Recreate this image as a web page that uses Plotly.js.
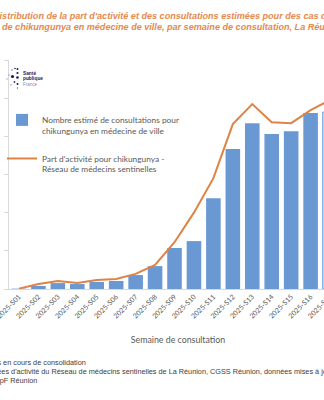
<!DOCTYPE html>
<html><head><meta charset="utf-8">
<script src="https://cdn.plot.ly/plotly-3.0.1.min.js"></script>
<style>html,body{margin:0;padding:0;overflow:hidden;width:324px;height:400px;background:#fff}#c{width:350px;height:400px}</style>
</head><body><div id="c"></div>
<script>
// ---- data ----
const weeks = ["2025-S01","2025-S02","2025-S03","2025-S04","2025-S05","2025-S06","2025-S07","2025-S08","2025-S09","2025-S10","2025-S11","2025-S12","2025-S13","2025-S14","2025-S15","2025-S16","2025-S17"];
const consultations = [20,160,310,260,370,420,730,1200,2150,2510,4760,7330,8690,8120,8270,9220,9270];
const partActivite = [0.02,0.26,0.42,0.31,0.47,0.52,0.79,1.26,2.45,4.0,5.81,8.64,9.69,8.74,8.69,9.37,9.9];
const consolidating = [false,false,false,false,false,false,false,false,false,false,false,false,false,false,false,false,true];

const barName = "Nombre estimé de consultations pour<br>chikungunya en médecine de ville";
const lineName = "Part d'activité pour chikungunya -<br>Réseau de médecins sentinelles";
const titleLine1 = "Distribution de la part d'activité et des consultations estimées pour des cas de suspicion";
const titleLine2 = "de chikungunya en médecine de ville, par semaine de consultation, La Réunion, 2025";
const foot1 = "* Données en cours de consolidation";
const foot2 = "Sources : Données d'activité du Réseau de médecins sentinelles de La Réunion, CGSS Réunion, données mises à jour le 29/04/2025";
const foot3 = "Exploitation : SpF Réunion";

// ---- geometry helpers ----
const M = {l:8, r:3, t:60, b:111};
const W = 350, H = 400;
const PW = W - M.l - M.r, PH = H - M.t - M.b;
const py = y => (H - M.b - y) / PH;   // page y -> paper y
const px = x => (x - M.l) / PW;       // page x -> paper x

const cv = document.createElement('canvas').getContext('2d');
function tw(str, font){ cv.font = font; return cv.measureText(str).width; }
function fit(str, tpl, target){ return 20 * target / tw(str, tpl(20)); }

const tTpl = s => `italic bold ${s}px "Liberation Sans"`;
const tSize = (fit("stribution de la part d'activité et des consultations estimées pour des cas d", tTpl, 323) +
               fit("de chikungunya en médecine de ville, par semaine de consultation, La Réu", tTpl, 325)) / 2;
const fTpl = s => `${s}px "Liberation Sans"`;
const fSize = fit("es d'activité du Réseau de médecins sentinelles de La Réunion, CGSS Réunion, données mises à jo", fTpl, 326);

function leftText(full, hiddenPrefix, visibleLeft, y, tpl, size, color){
  const pre = tw(hiddenPrefix, tpl(size));
  const isTitle = tpl === tTpl;
  return {xref:'paper', yref:'paper', x:0, y:py(y), xanchor:'left', yanchor:'middle',
    xshift: visibleLeft - pre - M.l - 1, showarrow:false,
    text: isTitle ? `<b><i>${full}</i></b>` : full,
    font:{family:'"Liberation Sans", Arial, sans-serif', size:size, color:color}};
}

const annotations = [
  leftText(titleLine1, "Di", 0.3, 16, tTpl, tSize, '#E5894D'),
  leftText(titleLine2, "", 0, 27.5, tTpl, tSize, '#E5894D'),
  leftText(foot1, "* Données ", 1, 362, fTpl, fSize, '#404040'),
  leftText(foot2, "Sources : Donné", -0.5, 371, fTpl, fSize, '#404040'),
  leftText(foot3, "Exploitation : S", -2.5, 380, fTpl, fSize, '#404040'),
  {xref:'paper', yref:'paper', x:px(20), y:py(73), xanchor:'left', yanchor:'middle', showarrow:false,
   text:'<b>Santé</b>', font:{family:'"Liberation Sans", Arial', size:4.8, color:'#1d1d5e'}},
  {xref:'paper', yref:'paper', x:px(20), y:py(78.5), xanchor:'left', yanchor:'middle', showarrow:false,
   text:'<b>publique</b>', font:{family:'"Liberation Sans", Arial', size:4.8, color:'#1d1d5e'}},
  {xref:'paper', yref:'paper', x:px(20), y:py(84), xanchor:'left', yanchor:'middle', showarrow:false,
   text:'France', font:{family:'"Liberation Sans", Arial', size:4.5, color:'#8a86b8'}}
];

const dots = [[11,70,0.8,'#6b6bb0'],[14,68.5,0.8,'#1d1d5e'],[16.5,69,1.0,'#1d1d5e'],[16.5,73,1.1,'#1d1d5e'],
  [8,75,0.7,'#8a8ac0'],[11.5,76.5,1.6,'#1d1d5e'],[16.5,77.5,1.3,'#1d1d5e'],[6,79,0.7,'#9a9acc'],
  [13.5,82,0.9,'#3a3a80'],[16.5,84,1.0,'#1d1d5e'],[10,85,0.7,'#8a8ac0'],[16.5,88,0.7,'#5a5aa0']];
const shapes = dots.map(d => ({type:'circle', xref:'paper', yref:'paper', xsizemode:'pixel', ysizemode:'pixel',
  xanchor:px(d[0]), yanchor:py(d[1]), x0:-d[2], x1:d[2], y0:-d[2], y1:d[2], fillcolor:d[3], line:{width:0}}));

const blue = '#6A98D3', orange = '#DF8244';
const traces = [
  {type:'bar', x:weeks, y:consultations, name:barName, legendgroup:'a',
   marker:{color: consolidating.map(c => c ? '#dce7f5' : blue),
           line:{color: blue, width: consolidating.map(c => c ? 1 : 0)}}},
  {type:'scatter', mode:'lines', x:weeks, y:partActivite, yaxis:'y2', name:lineName, legendgroup:'b',
   line:{color:orange, width:2}}
];

const layout = {
  width:W, height:H, margin:M, paper_bgcolor:'#fff', plot_bgcolor:'#fff',
  font:{family:'Lato, "Open Sans", sans-serif', color:'#595959'},
  bargap:0.25,
  xaxis:{type:'category', range:[-10/19.5, -10/19.5 + PW/19.5], tickangle:-45, automargin:false,
    tickfont:{size:7, color:'#595959'}, showline:true, linecolor:'#d9d9d9', linewidth:1, ticks:'',
    title:{text:'Semaine de consultation', font:{size:8.8, color:'#595959'}, standoff:18}, fixedrange:true},
  yaxis:{range:[0,12000], dtick:2000, showticklabels:false, ticks:'outside', ticklen:4, tickcolor:'#d9d9d9',
    showline:true, linecolor:'#d9d9d9', showgrid:false, zeroline:false, automargin:false},
  yaxis2:{range:[0,12], overlaying:'y', side:'right', showticklabels:false, showgrid:false, zeroline:false,
    showline:false, ticks:'', automargin:false},
  showlegend:true,
  legend:{x:px(2), y:py(108), xanchor:'left', yanchor:'top', bgcolor:'rgba(0,0,0,0)', valign:'top',
    traceorder:'grouped', tracegroupgap:14, font:{size:8.3, color:'#595959'}},
  annotations:annotations, shapes:shapes
};
Plotly.newPlot('c', traces, layout, {displayModeBar:false, staticPlot:true});
</script></body></html>
